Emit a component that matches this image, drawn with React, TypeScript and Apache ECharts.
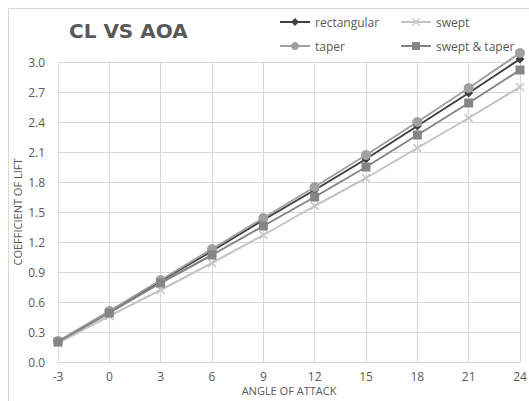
import React, { useEffect, useRef } from "react";
import * as echarts from "echarts";

const angles = [-3, 0, 3, 6, 9, 12, 15, 18, 21, 24];
const rectangular = [0.2, 0.5, 0.81, 1.11, 1.42, 1.72, 2.03, 2.36, 2.69, 3.03];
const swept = [0.19, 0.46, 0.72, 0.99, 1.27, 1.56, 1.84, 2.14, 2.44, 2.75];
const taper = [0.21, 0.51, 0.82, 1.13, 1.44, 1.75, 2.07, 2.4, 2.74, 3.09];
const sweptTaper = [0.2, 0.49, 0.79, 1.07, 1.36, 1.65, 1.95, 2.27, 2.59, 2.92];
const seriesNames = ["rectangular", "swept", "taper", "swept & taper"];

const FONT = "'Open Sans', sans-serif";
const TXT = "#595959";
const GRID = "#D9D9D9";
const X_SYMBOL =
  "path://M0,1.2L1.2,0L5,3.8L8.8,0L10,1.2L6.2,5L10,8.8L8.8,10L5,6.2L1.2,10L0,8.8L3.8,5Z";

function pairs(vals: number[]) {
  return angles.map((a, i) => [a, vals[i]]);
}

export default function App() {
  const ref = useRef<HTMLDivElement>(null);
  useEffect(() => {
    if (!ref.current) return;
    const chart = echarts.init(ref.current, null, { renderer: "svg" });
    const legendBase = {
      itemWidth: 30,
      itemHeight: 10,
      itemGap: 5,
      textStyle: { color: TXT, fontFamily: FONT, fontSize: 12 },
      padding: 0,
    };
    chart.setOption({
      animation: false,
      backgroundColor: "#ffffff",
      graphic: [
        {
          type: "rect",
          shape: { x: 8.5, y: 8.5, width: 700, height: 700 },
          style: { fill: "none", stroke: GRID, lineWidth: 1 },
          silent: true,
        },
      ],
      title: {
        text: "CL VS AOA",
        left: 64,
        top: 16,
        textStyle: {
          color: TXT,
          fontFamily: "'DejaVu Sans', sans-serif",
          fontSize: 20,
          fontWeight: "bold",
        },
      },
      legend: [
        { ...legendBase, data: [seriesNames[0]], left: 279, top: 16 },
        { ...legendBase, data: [seriesNames[1]], left: 400, top: 16 },
        { ...legendBase, data: [seriesNames[2]], left: 279, top: 40 },
        { ...legendBase, data: [seriesNames[3]], left: 400, top: 40 },
      ],
      grid: {
        left: 58,
        right: 9,
        top: 62,
        bottom: 39,
        containLabel: false,
        outerBoundsMode: "none",
      },
      xAxis: {
        type: "value",
        min: -3,
        max: 24,
        interval: 3,
        name: "ANGLE OF ATTACK",
        nameLocation: "middle",
        nameGap: 23,
        nameMoveOverlap: false,
        nameTextStyle: { color: TXT, fontFamily: FONT, fontSize: 11 },
        axisLine: { show: true, lineStyle: { color: GRID, width: 1 } },
        axisTick: { show: false },
        axisLabel: { color: TXT, fontFamily: FONT, fontSize: 12, margin: 8 },
        splitLine: { show: true, lineStyle: { color: GRID, width: 1 } },
      },
      yAxis: {
        type: "value",
        min: 0,
        max: 3,
        interval: 0.3,
        name: "COEFFICIENT OF LIFT",
        nameLocation: "middle",
        nameGap: 35,
        nameRotate: 90,
        nameMoveOverlap: false,
        nameTextStyle: { color: TXT, fontFamily: FONT, fontSize: 11 },
        axisLine: { show: true, lineStyle: { color: GRID, width: 1 } },
        axisTick: { show: false },
        axisLabel: {
          color: TXT,
          fontFamily: FONT,
          fontSize: 12,
          margin: 13,
          formatter: (v: number) => v.toFixed(1),
        },
        splitLine: { show: true, lineStyle: { color: GRID, width: 1 } },
      },
      series: [
        {
          name: seriesNames[0],
          type: "line",
          data: pairs(rectangular),
          symbol: "diamond",
          symbolSize: 9,
          clip: false,
          lineStyle: { color: "#404040", width: 2 },
          itemStyle: { color: "#404040" },
        },
        {
          name: seriesNames[1],
          type: "line",
          data: pairs(swept),
          symbol: X_SYMBOL,
          symbolSize: 9,
          clip: false,
          lineStyle: { color: "#C4C4C4", width: 2 },
          itemStyle: { color: "#C4C4C4" },
        },
        {
          name: seriesNames[2],
          type: "line",
          data: pairs(taper),
          symbol: "circle",
          symbolSize: 10,
          clip: false,
          lineStyle: { color: "#A0A0A0", width: 2 },
          itemStyle: { color: "#A0A0A0" },
        },
        {
          name: seriesNames[3],
          type: "line",
          data: pairs(sweptTaper),
          symbol: "rect",
          symbolSize: 9,
          clip: false,
          lineStyle: { color: "#858585", width: 2 },
          itemStyle: { color: "#858585" },
        },
      ],
    });
    return () => chart.dispose();
  }, []);
  return (
    <div
      ref={ref}
      style={{ position: "fixed", left: 0, top: 0, width: 529, height: 401 }}
    />
  );
}
